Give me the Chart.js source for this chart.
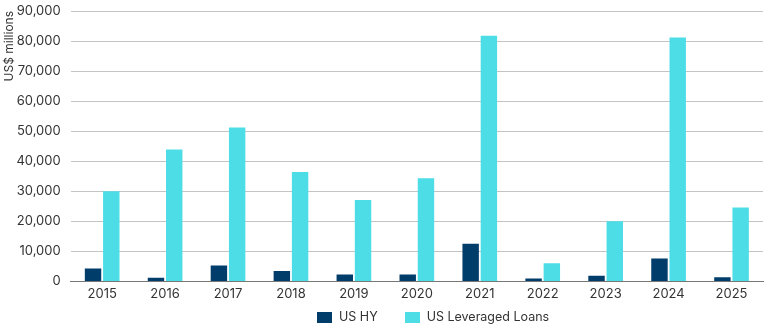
<!DOCTYPE html>
<html>
<head>
<meta charset="utf-8">
<script src="https://cdn.jsdelivr.net/npm/chart.js@4/dist/chart.umd.min.js"></script>
<style>
  html, body { margin: 0; padding: 0; background: #fff; }
  #wrap { position: relative; width: 770px; height: 326px; }
  #legend { position: absolute; left: 317px; top: 310px; display: flex; align-items: center;
            font: 12.5px Inter, "Noto Sans", sans-serif; color: #333; line-height: 14px; }
  #legend .item { display: flex; align-items: center; margin-right: 27px; }
  #legend .box { width: 15px; height: 11px; margin-right: 7px; }
</style>
</head>
<body>
<div id="wrap"><canvas id="chart"></canvas><div id="legend"></div></div>
<script>
var years = ['2015', '2016', '2017', '2018', '2019', '2020', '2021', '2022', '2023', '2024', '2025'];
var usHY = [4300, 1200, 5300, 3500, 2300, 2300, 12500, 1000, 1900, 7600, 1400];
var usLoans = [30000, 43900, 51200, 36400, 27100, 34300, 81800, 6000, 20000, 81200, 24600];

Chart.defaults.font.family = 'Inter, "Noto Sans", sans-serif';
Chart.defaults.font.size = 13;
Chart.defaults.color = '#333';

// legend built as html so the item spacing can match
var htmlLegend = {
    id: 'htmlLegend',
    afterUpdate: function(chart) {
        var el = document.getElementById('legend');
        el.innerHTML = '';
        chart.options.plugins.legend.labels.generateLabels(chart).forEach(function(item) {
            var div = document.createElement('div');
            div.className = 'item';
            var box = document.createElement('span');
            box.className = 'box';
            box.style.background = item.fillStyle;
            var txt = document.createElement('span');
            txt.textContent = item.text;
            div.appendChild(box);
            div.appendChild(txt);
            el.appendChild(div);
        });
    }
};

var ctx = document.getElementById('chart').getContext('2d');
new Chart(ctx, {
    type: 'bar',
    data: {
        labels: years,
        datasets: [{
            label: 'US HY',
            data: usHY,
            backgroundColor: '#003d6b'
        }, {
            label: 'US Leveraged Loans',
            data: usLoans,
            backgroundColor: '#4ddde6'
        }]
    },
    options: {
        responsive: true,
        maintainAspectRatio: false,
        animation: false,
        categoryPercentage: 0.58,
        barPercentage: 0.9,
        layout: { padding: { left: 2, right: 7, top: 11, bottom: 19 } },
        scales: {
            x: {
                grid: { display: false, drawTicks: false },
                border: { color: '#777', width: 1 },
                ticks: { padding: 5, font: { size: 13 } }
            },
            y: {
                min: 0,
                max: 90000,
                ticks: {
                    stepSize: 10000,
                    padding: 0,
                    callback: function(v) { return v.toLocaleString('en-US'); }
                },
                grid: { color: '#c4c4c4', drawTicks: true, tickLength: 10, tickColor: 'rgba(0,0,0,0)' },
                border: { display: false },
                title: {
                    display: true,
                    text: 'US$ millions',
                    align: 'end',
                    padding: { top: 0, bottom: 0 },
                    font: { size: 12 }
                }
            }
        },
        plugins: {
            legend: { display: false },
            tooltip: { enabled: false }
        }
    },
    plugins: [htmlLegend]
});
</script>
</body>
</html>
